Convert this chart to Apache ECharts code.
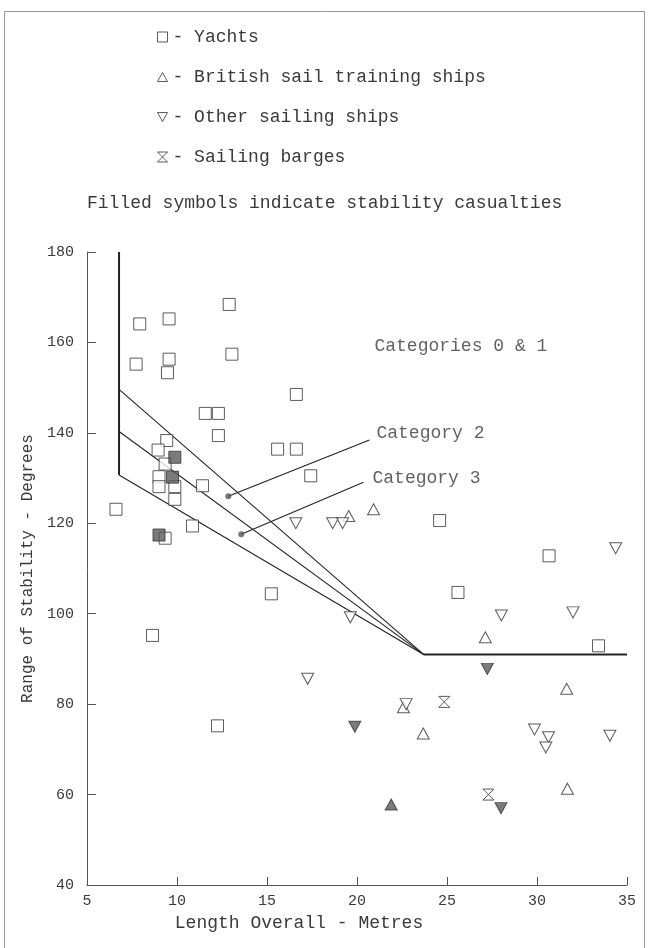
<!DOCTYPE html>
<html>
<head>
<meta charset="UTF-8">
<title>Range of Stability</title>
<style>
  html, body { margin: 0; padding: 0; background: #fff; }
  #chart { width: 650px; height: 948px; }
</style>
</head>
<body>
<div id="chart"></div>
<script src="https://cdn.jsdelivr.net/npm/echarts@6/dist/echarts.min.js"></script>
<script>
// tick labels / axis ranges
var xTicks = [5, 10, 15, 20, 25, 30, 35];
var yTicks = [40, 60, 80, 100, 120, 140, 160, 180];

// yachts (open squares)
var yachts = [
  [12.9,168.4],[9.56,165.2],[7.93,164.1],[13.05,157.4],[7.73,155.2],[9.56,156.3],[9.47,153.3],
  [16.63,148.5],[11.57,144.3],[12.3,144.3],[12.3,139.4],[9.43,138.3],[8.95,136.2],[15.59,136.4],
  [16.63,136.4],[9.34,133.1],[9.0,130.3],[9.0,128.1],[9.88,128.1],[11.42,128.3],[17.43,130.5],
  [9.88,125.3],[6.61,123.1],[10.86,119.4],[9.34,116.7],[24.59,120.6],[15.24,104.4],[8.64,95.2],
  [12.25,75.2],[30.67,112.8],[25.61,104.7],[33.42,92.9]
];
var yachtsLost = [[9.88,134.6],[9.75,130.2],[9.0,117.4]];

// british sail training ships (up triangles)
var british = [[19.54,121.6],[20.92,123.1],[27.13,94.8],[31.65,83.4],[22.58,79.3],[23.68,73.5],[31.69,61.3]];
var britishLost = [[21.9,57.8]];

// other sailing ships (down triangles)
var others = [
  [16.6,120.0],[18.65,120.0],[19.2,120.0],[19.63,99.2],[17.26,85.6],[34.37,114.5],[28.02,99.6],
  [32.0,100.3],[22.73,80.0],[29.86,74.4],[30.64,72.7],[30.49,70.4],[34.05,73.0]
];
var othersLost = [[19.88,75.0],[27.24,87.8],[28.0,57.0]];

// sailing barges (hourglass)
var barges = [[24.85,80.5],[27.3,60.0]];

// category boundaries
var bound0 = [[6.78,180],[6.78,130.7]];
var bound1 = [[6.78,149.6],[23.7,91]];
var bound2 = [[6.78,140.3],[23.7,91]];
var bound3 = [[6.78,130.7],[23.7,91]];
var boundFlat = [[23.7,91],[35,91]];
var leader2 = [[12.85,126.0],[20.69,138.4]];
var leader3 = [[13.57,117.6],[20.36,129.1]];
var leaderDots = [[12.85,126.0],[13.57,117.6]];

var notes = [
  [20.97,159.1,'Categories 0 & 1'],
  [21.08,139.9,'Category 2'],
  [20.86,129.95,'Category 3']
];

var FONT = '"Liberation Mono", "DejaVu Sans Mono", monospace';
var INK = '#3a3a3a';

var symUp = 'path://M5,0L10,9L0,9Z';
var symDown = 'path://M0,0L10,0L5,9Z';
var symGlass = 'path://M0,0L10,0L0,10L10,10Z';

var openStyle = { color: '#fff', borderColor: '#333', borderWidth: 1 };
var fillStyle = { color: '#5a5a5a', borderColor: '#333', borderWidth: 1 };

function lineSeries(d, w) {
  return {
    type: 'line', data: d, symbol: 'none', silent: true, z: 1,
    lineStyle: { color: '#222', width: w || 1.1 }
  };
}

var chart = echarts.init(document.getElementById('chart'));
var option = {
  backgroundColor: '#fff',
  animation: false,
  title: {
    text: 'Filled symbols indicate stability casualties',
    left: 82, top: 189,
    textStyle: { fontFamily: FONT, fontSize: 18, fontWeight: 'normal', color: INK }
  },
  legend: {
    data: ['Yachts', 'British sail training ships', 'Other sailing ships', 'Sailing barges'],
    orient: 'vertical',
    left: 152, top: 23,
    itemWidth: 10, itemHeight: 10, itemGap: 22,
    formatter: function (n) { return '- ' + n; },
    textStyle: { fontFamily: FONT, fontSize: 18, color: INK, lineHeight: 18 },
    itemStyle: { color: '#fff', borderColor: '#333', borderWidth: 1 }
  },
  graphic: [{
    type: 'rect', silent: true,
    shape: { x: 4.5, y: 11.5, width: 640, height: 960 },
    style: { fill: null, stroke: '#999', lineWidth: 1 }
  }],
  grid: { left: 87, right: 23, top: 252, bottom: 63 },
  xAxis: {
    type: 'value', min: xTicks[0], max: xTicks[xTicks.length - 1], interval: 5,
    name: 'Length Overall - Metres', nameLocation: 'middle', nameGap: 27,
    nameTextStyle: { fontFamily: FONT, fontSize: 18, color: INK, padding: [0, 116, 0, 0] },
    axisLine: { lineStyle: { color: '#555', width: 1 } },
    axisTick: { inside: true, length: 8, lineStyle: { color: '#555' } },
    axisLabel: { fontFamily: FONT, fontSize: 15, color: INK, margin: 9 },
    splitLine: { show: false }
  },
  yAxis: {
    type: 'value', min: yTicks[0], max: yTicks[yTicks.length - 1], interval: 20,
    name: 'Range of Stability - Degrees', nameLocation: 'middle', nameGap: 44,
    nameTextStyle: { fontFamily: FONT, fontSize: 16, color: INK },
    axisLine: { show: true, lineStyle: { color: '#555', width: 1 } },
    axisTick: { show: true, inside: true, length: 9, lineStyle: { color: '#555' } },
    axisLabel: { fontFamily: FONT, fontSize: 15, color: INK, margin: 13 },
    splitLine: { show: false }
  },
  series: [
    lineSeries(bound0, 2),
    lineSeries(bound1),
    lineSeries(bound2),
    lineSeries(bound3),
    lineSeries(boundFlat, 2),
    lineSeries(leader2),
    lineSeries(leader3),
    {
      type: 'scatter', data: leaderDots, symbol: 'circle', symbolSize: 6, silent: true, z: 2,
      itemStyle: { color: '#555' }
    },
    {
      type: 'scatter', data: notes, symbolSize: 0, silent: true,
      label: {
        show: true, position: 'right', distance: 0,
        formatter: function (p) { return p.data[2]; },
        fontFamily: FONT, fontSize: 18, color: INK
      }
    },
    { name: 'Yachts', type: 'scatter', data: yachts, symbol: 'rect', symbolSize: 12, itemStyle: openStyle, z: 3 },
    { name: 'British sail training ships', type: 'scatter', data: british, symbol: symUp, symbolSize: [12, 11], itemStyle: openStyle, z: 3 },
    { name: 'Other sailing ships', type: 'scatter', data: others, symbol: symDown, symbolSize: [12, 11], itemStyle: openStyle, z: 3 },
    { name: 'Sailing barges', type: 'scatter', data: barges, symbol: symGlass, symbolSize: [11, 11], itemStyle: openStyle, z: 3 },
    { name: 'Yachts lost', type: 'scatter', data: yachtsLost, symbol: 'rect', symbolSize: 12, itemStyle: fillStyle, z: 4 },
    { name: 'British lost', type: 'scatter', data: britishLost, symbol: symUp, symbolSize: [12, 11], itemStyle: fillStyle, z: 4 },
    { name: 'Others lost', type: 'scatter', data: othersLost, symbol: symDown, symbolSize: [12, 11], itemStyle: fillStyle, z: 4 }
  ]
};
chart.setOption(option);
</script>
</body>
</html>
